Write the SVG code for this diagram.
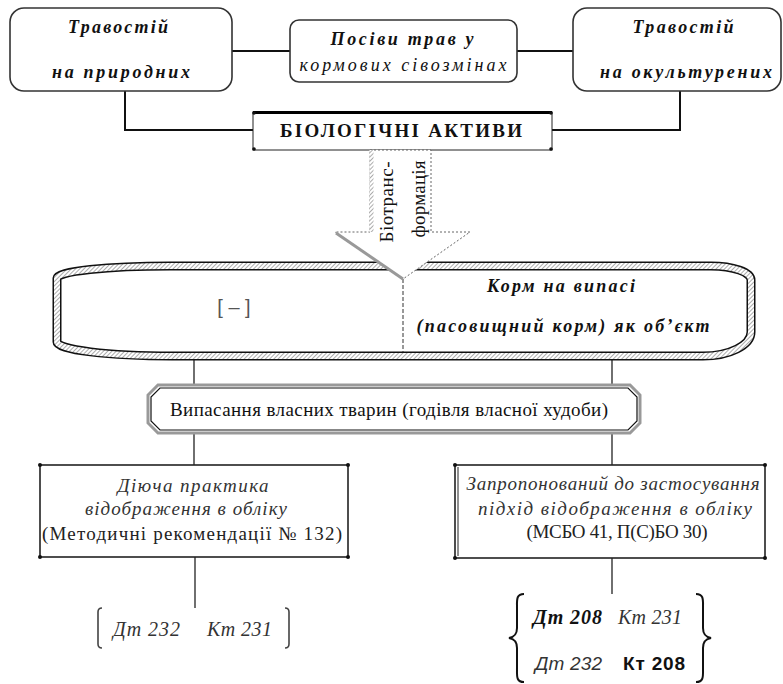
<svg xmlns="http://www.w3.org/2000/svg" width="783" height="684" viewBox="0 0 783 684">
<style>
.t{font-family:"Liberation Serif","Times New Roman",serif;fill:#111}
.bi{font-weight:bold;font-style:italic}
.it{font-style:italic}
.b{font-weight:bold}
.s{font-family:"Liberation Sans",Arial,sans-serif}
.top{fill:#fff;stroke:#333;stroke-width:1.6}
.con{stroke:#111;stroke-width:2;fill:none}
.thin{stroke:#222;stroke-width:1.3;fill:none}
.bx{fill:#fff;stroke:#222;stroke-width:1.6}
.dot{fill:#111}
</style>
<defs>
<pattern id="hatch" patternUnits="userSpaceOnUse" width="3" height="3" patternTransform="rotate(45)">
<rect width="3" height="3" fill="#fff"/>
<line x1="0" y1="0" x2="0" y2="3" stroke="#888" stroke-width="1.4"/>
</pattern>
</defs>

<g id="connectors">
<line class="con" x1="232" y1="51" x2="290" y2="51"/>
<line class="con" x1="517" y1="51" x2="573" y2="51"/>
<polyline class="con" points="125,91 125,130 253,130"/>
<polyline class="con" points="680,91 680,130 552,130"/>
<line class="thin" x1="194" y1="360" x2="194" y2="386"/>
<line class="thin" x1="612" y1="360" x2="612" y2="386"/>
<line class="thin" x1="194" y1="433" x2="194" y2="465"/>
<line class="thin" x1="612" y1="433" x2="612" y2="465"/>
<line class="thin" x1="195" y1="557" x2="195" y2="608"/>
<line class="thin" x1="612" y1="558" x2="612" y2="594"/>
</g>

<g id="n-natural">
<rect class="top" x="10" y="8" width="222" height="83" rx="14"/>
<text class="t bi" x="118" y="33" font-size="18" text-anchor="middle" textLength="100" lengthAdjust="spacing">Травостій</text>
<text class="t bi" x="121" y="78" font-size="18" text-anchor="middle" textLength="138" lengthAdjust="spacing">на природних</text>
</g>

<g id="n-crops">
<rect class="top" x="290" y="20" width="227" height="62" rx="9"/>
<text class="t bi" x="402" y="45" font-size="18" text-anchor="middle" textLength="143" lengthAdjust="spacing">Посіви трав у</text>
<text class="t it" x="403" y="71" font-size="18" text-anchor="middle" textLength="207" lengthAdjust="spacing">кормових сівозмінах</text>
</g>

<g id="n-cultured">
<rect class="top" x="573" y="8" width="208" height="83" rx="14"/>
<text class="t bi" x="683" y="33" font-size="18" text-anchor="middle" textLength="101" lengthAdjust="spacing">Травостій</text>
<text class="t bi" x="686" y="78" font-size="18" text-anchor="middle" textLength="172" lengthAdjust="spacing">на окультурених</text>
</g>

<g id="n-bioassets">
<rect x="253" y="112" width="299" height="38" fill="#fff" stroke="#222" stroke-width="1"/>
<line x1="253" y1="112.5" x2="552" y2="112.5" stroke="#000" stroke-width="3"/>
<circle class="dot" cx="254" cy="113" r="1.8"/><circle class="dot" cx="254" cy="149" r="1.8"/>
<circle class="dot" cx="551" cy="113" r="1.8"/><circle class="dot" cx="551" cy="149" r="1.8"/>
<text class="t b" x="401" y="137" font-size="19" text-anchor="middle" textLength="242" lengthAdjust="spacing">БІОЛОГІЧНІ АКТИВИ</text>
</g>

<g id="n-forage">
<path d="M 170 266 L 711 266 A 40 14 0 0 1 751 280 L 751 332 A 48 24 0 0 1 703 356 L 172 356 A 115 14 0 0 1 57 342 L 57 278 A 113 12 0 0 1 170 266 Z" fill="#fff" stroke="#111" stroke-width="9"/>
<path d="M 170 266 L 711 266 A 40 14 0 0 1 751 280 L 751 332 A 48 24 0 0 1 703 356 L 172 356 A 115 14 0 0 1 57 342 L 57 278 A 113 12 0 0 1 170 266 Z" fill="none" stroke="url(#hatch)" stroke-width="6"/>
<line x1="403" y1="279" x2="403" y2="352" stroke="#333" stroke-width="1" stroke-dasharray="4 2"/>
<text class="s" x="234" y="314" font-size="20" text-anchor="middle" style="fill:#555">[ – ]</text>
<text class="t bi" x="561" y="292" font-size="18" text-anchor="middle" textLength="148" lengthAdjust="spacing">Корм на випасі</text>
<text class="t bi" x="563" y="332" font-size="18" text-anchor="middle" textLength="293" lengthAdjust="spacing">(пасовищний корм) як об’єкт</text>
</g>

<g id="n-arrow">
<polygon points="370,150 431,150 431,232 470,232 403,279 335,232 370,232" fill="#fff" stroke="#666" stroke-width="1" stroke-dasharray="2 2"/>
<line x1="371.5" y1="150" x2="371.5" y2="232" stroke="url(#hatch)" stroke-width="4"/>
<line x1="336" y1="233" x2="403" y2="279" stroke="#999" stroke-width="3"/>
<text class="t" transform="translate(393,202) rotate(-90)" font-size="19" text-anchor="middle" textLength="81" lengthAdjust="spacing">Біотранс-</text>
<text class="t" transform="translate(425,199) rotate(-90)" font-size="19" text-anchor="middle" textLength="77" lengthAdjust="spacing">формація</text>
</g>

<g id="n-grazing">
<polygon points="158,385 630,385 640,395 640,423 630,433 158,433 148,423 148,395" fill="#fff" stroke="#999" stroke-width="3"/>
<polygon points="160,388 628,388 637,397 637,421 628,430 160,430 151,421 151,397" fill="none" stroke="#111" stroke-width="1.2"/>
<text class="t" x="389" y="416" font-size="19" text-anchor="middle" textLength="438" lengthAdjust="spacing">Випасання власних тварин (годівля власної худоби)</text>
</g>

<g id="n-current">
<rect class="bx" x="40" y="465" width="308" height="92"/>
<circle class="dot" cx="40" cy="465" r="2"/><circle class="dot" cx="348" cy="465" r="2"/>
<circle class="dot" cx="40" cy="557" r="2"/><circle class="dot" cx="348" cy="557" r="2"/>
<text class="t it" x="193" y="492" font-size="19" text-anchor="middle" textLength="151" lengthAdjust="spacing" style="fill:#333">Діюча практика</text>
<text class="t it" x="186" y="515" font-size="19" text-anchor="middle" textLength="202" lengthAdjust="spacing" style="fill:#333">відображення в обліку</text>
<text class="t" x="192" y="540" font-size="19" text-anchor="middle" textLength="300" lengthAdjust="spacing" style="fill:#222">(Методичні рекомендації № 132)</text>
</g>

<g id="n-proposed">
<rect class="bx" x="455" y="465" width="310" height="93"/>
<line x1="458" y1="467" x2="458" y2="556" stroke="#222" stroke-width="1"/>
<circle class="dot" cx="455" cy="465" r="2"/><circle class="dot" cx="765" cy="465" r="2"/>
<circle class="dot" cx="455" cy="558" r="2"/><circle class="dot" cx="765" cy="558" r="2"/>
<text class="t it" x="613" y="490" font-size="19" text-anchor="middle" textLength="293" lengthAdjust="spacing" style="fill:#333">Запропонований до застосування</text>
<text class="t it" x="615" y="515" font-size="19" text-anchor="middle" textLength="274" lengthAdjust="spacing" style="fill:#333">підхід відображення в обліку</text>
<text class="t" x="617" y="538" font-size="19" text-anchor="middle" textLength="181" lengthAdjust="spacing" style="fill:#222">(МСБО 41, П(С)БО 30)</text>
</g>

<g id="n-entry-current">
<path d="M 102 608 Q 98 608 98 612 L 98 644 Q 98 648 102 648" fill="none" stroke="#444" stroke-width="1.6"/>
<path d="M 285 608 Q 289 608 289 612 L 289 644 Q 289 648 285 648" fill="none" stroke="#444" stroke-width="1.6"/>
<text class="t it" x="113" y="636" font-size="20" textLength="67" lengthAdjust="spacing" style="fill:#333">Дт 232</text>
<text class="t it" x="207" y="636" font-size="20" textLength="65" lengthAdjust="spacing" style="fill:#333">Кт 231</text>
</g>

<g id="n-entry-proposed">
<path d="M 524 594 C 516 594 517 600 517 608 L 517 628 C 517 635 514 637 509 638 C 514 639 517 641 517 648 L 517 668 C 517 676 516 682 524 682" fill="none" stroke="#111" stroke-width="2"/>
<path d="M 696 594 C 704 594 703 600 703 608 L 703 628 C 703 635 706 637 711 638 C 706 639 703 641 703 648 L 703 668 C 703 676 704 682 696 682" fill="none" stroke="#111" stroke-width="2"/>
<text class="t bi" x="533" y="624" font-size="20" textLength="69" lengthAdjust="spacing">Дт 208</text>
<text class="t it" x="618" y="624" font-size="20" textLength="64" lengthAdjust="spacing" style="fill:#333">Кт 231</text>
<text class="s it" x="535" y="670" font-size="19" textLength="67" lengthAdjust="spacing" style="fill:#333">Дт 232</text>
<text class="s b" x="623" y="670" font-size="19" textLength="62" lengthAdjust="spacing" style="fill:#111">Кт 208</text>
</g>
</svg>
